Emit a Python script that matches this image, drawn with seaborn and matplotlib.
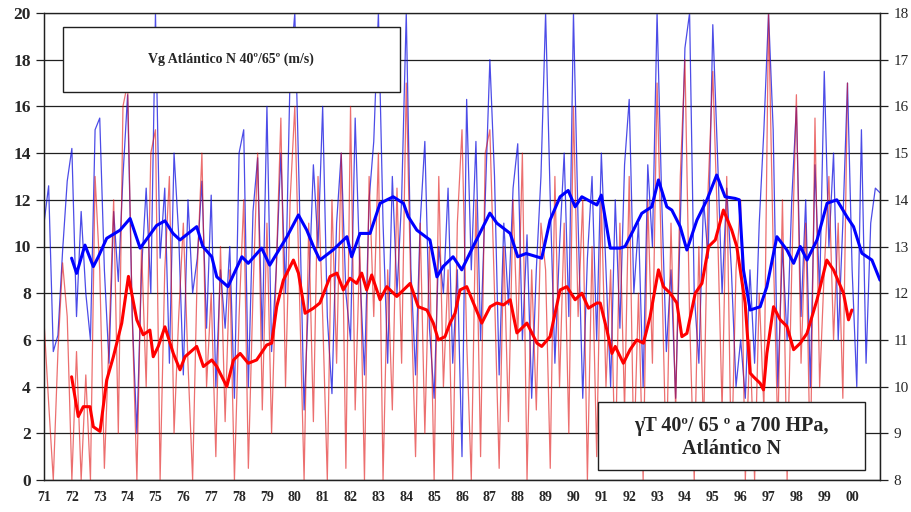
import numpy as np
import matplotlib
matplotlib.use('Agg')
import matplotlib.pyplot as plt
import seaborn as sns
from matplotlib.patches import Rectangle

# Monthly-ish (bi-monthly) thin series, one row per year 1971..2000
vg_thin = [
    11.0, 12.6, 5.5, 6.2, 9.8, 12.8,     # 71
    14.2, 7.0, 11.5, 8.0, 6.0, 15.0,     # 72
    15.5, 9.0, 5.0, 11.5, 8.5, 13.0,     # 73
    16.5, 7.0, 2.0, 9.0, 12.5, 8.0,      # 74
    20.0, 9.5, 12.5, 5.0, 14.0, 10.5,    # 75
    4.5, 12.0, 8.0, 9.5, 12.8, 6.5,      # 76
    12.2, 4.0, 9.0, 6.5, 10.0, 3.5,      # 77
    14.0, 15.0, 4.0, 11.5, 13.8, 6.0,    # 78
    16.0, 5.5, 9.0, 14.0, 8.0, 17.5,     # 79
    20.0, 12.0, 3.0, 8.0, 13.5, 10.0,    # 80
    16.0, 7.0, 3.7, 11.0, 14.0, 8.0,     # 81
    6.0, 15.5, 9.0, 4.5, 12.0, 14.5,     # 82
    20.0, 11.0, 5.0, 13.0, 8.0, 12.0,    # 83
    20.0, 9.0, 4.5, 11.0, 14.5, 6.5,     # 84
    3.5, 10.0, 8.0, 12.5, 5.0, 9.0,      # 85
    1.0, 16.3, 9.0, 14.5, 6.0, 12.0,     # 86
    18.0, 13.0, 4.5, 11.0, 7.5, 12.5,    # 87
    14.4, 6.0, 10.5, 3.5, 9.0, 13.0,     # 88
    20.0, 12.0, 5.0, 10.0, 14.0, 7.0,    # 89
    20.0, 11.0, 3.5, 9.5, 13.0, 6.0,     # 90
    14.0, 9.0, 4.0, 12.0, 6.5, 13.5,     # 91
    16.3, 8.0, 11.0, 4.0, 13.5, 10.0,    # 92
    20.0, 12.0, 5.5, 9.0, 3.5, 11.0,     # 93
    18.5, 20.0, 8.0, 5.0, 12.0, 9.5,     # 94
    19.5, 14.0, 8.0, 12.5, 9.0, 4.0,     # 95
    6.0, 3.5, 9.0, 5.0, 11.0, 15.0,      # 96
    20.0, 15.0, 4.0, 10.0, 6.0, 12.0,    # 97
    16.0, 7.0, 12.0, 4.0, 13.5, 8.0,     # 98
    17.5, 10.0, 14.0, 6.0, 11.0, 17.0,   # 99
    9.0, 4.0, 15.0, 5.0, 11.0, 12.5,     # 00
    12.3,
]

gt_thin = [
    11.4, 9.65, 8.0, 10.75, 12.65, 11.5,   # 71
    8.0, 10.75, 8.0, 10.25, 8.0, 14.5,     # 72
    12.5, 8.25, 11.0, 14.0, 9.0, 16.0,     # 73
    16.5, 11.5, 8.0, 13.0, 10.0, 15.0,     # 74
    15.5, 8.0, 12.5, 14.5, 9.0, 11.5,      # 75
    13.5, 10.5, 8.0, 12.5, 15.0, 10.0,     # 76
    12.0, 8.5, 13.0, 9.25, 12.5, 8.0,      # 77
    11.5, 14.0, 8.25, 12.0, 15.0, 9.5,     # 78
    13.5, 9.0, 12.5, 15.75, 10.0, 14.0,    # 79
    16.0, 12.0, 8.0, 13.5, 9.25, 14.5,     # 80
    11.5, 8.0, 14.0, 10.5, 15.0, 8.25,     # 81
    16.0, 9.5, 13.0, 8.0, 14.5, 11.5,      # 82
    15.0, 8.0, 12.5, 9.5, 14.25, 10.5,     # 83
    16.5, 12.0, 8.5, 13.5, 9.0, 13.0,      # 84
    8.0, 14.5, 10.0, 12.5, 8.0, 13.5,      # 85
    15.5, 11.0, 8.0, 14.0, 8.5, 15.0,      # 86
    15.5, 12.0, 8.25, 13.0, 9.25, 14.0,    # 87
    11.0, 15.0, 8.0, 12.5, 9.5, 13.5,      # 88
    12.5, 8.25, 14.5, 10.0, 13.5, 9.0,     # 89
    16.0, 11.5, 14.0, 8.0, 13.0, 8.5,      # 90
    14.0, 10.0, 12.5, 8.25, 13.5, 9.5,     # 91
    14.5, 8.5, 12.0, 8.0, 14.0, 10.5,      # 92
    16.5, 12.5, 8.25, 13.5, 9.5, 14.5,     # 93
    17.0, 11.5, 8.0, 13.0, 9.0, 14.25,     # 94
    16.75, 13.5, 9.5, 14.5, 8.25, 12.5,    # 95
    14.0, 8.0, 11.0, 8.0, 12.0, 9.5,       # 96
    18.0, 13.0, 9.0, 14.0, 8.0, 12.5,      # 97
    16.25, 10.5, 13.5, 8.25, 15.75, 10.0,  # 98
    12.5, 14.5, 11.0, 13.5, 9.75, 16.5,    # 99
]

# Smoothed series (thick lines): decimal year, value
vg_smooth_year = [
    71.99, 72.17, 72.47, 72.77, 72.95, 73.25, 73.73, 74.09, 74.45, 75.04,
    75.34, 75.63, 75.88, 76.48, 76.70, 77.02, 77.20, 77.60, 78.10, 78.33,
    78.81, 79.10, 79.47, 79.71, 80.13, 80.43, 80.67, 80.90, 81.37, 81.87,
    82.04, 82.34, 82.70, 83.06, 83.53, 83.90, 84.07, 84.38, 84.85, 85.10,
    85.32, 85.68, 85.99, 86.40, 87.00, 87.25, 87.73, 88.00, 88.30, 88.86,
    89.16, 89.52, 89.81, 90.06, 90.30, 90.84, 91.00, 91.32, 91.67, 91.85,
    92.15, 92.45, 92.81, 93.05, 93.35, 93.53, 93.83, 94.07, 94.43, 94.79,
    95.14, 95.44, 95.80, 95.95, 96.10, 96.34, 96.70, 96.94, 97.30, 97.66,
    97.90, 98.14, 98.38, 98.74, 99.10, 99.45, 99.81, 100.05, 100.35, 100.71,
    101.0,
]
vg_smooth = [
    9.5, 8.85, 10.06, 9.14, 9.56, 10.35, 10.7, 11.2, 9.93, 10.9,
    11.1, 10.56, 10.28, 10.85, 10.0, 9.56, 8.7, 8.28, 9.56, 9.28,
    9.93, 9.2, 9.93, 10.4, 11.35, 10.7, 10.0, 9.42, 9.85, 10.42,
    9.56, 10.56, 10.56, 11.85, 12.13, 11.85, 11.28, 10.7, 10.28, 8.7,
    9.14, 9.56, 9.0, 10.0, 11.43, 11.0, 10.56, 9.56, 9.7, 9.5,
    11.13, 12.13, 12.4, 11.7, 12.13, 11.78, 12.2, 9.93, 9.93, 10.0,
    10.7, 11.42, 11.7, 12.85, 11.7, 11.56, 10.85, 9.85, 11.13, 12.0,
    13.06, 12.13, 12.06, 12.0, 9.0, 7.28, 7.42, 8.28, 10.42, 9.85,
    9.28, 10.0, 9.42, 10.28, 11.85, 12.0, 11.28, 10.85, 9.71, 9.42,
    8.56,
]

gt_smooth_year = [
    71.99, 72.17, 72.23, 72.41, 72.65, 72.77, 73.01, 73.25, 73.49, 73.79,
    74.03, 74.33, 74.56, 74.80, 74.92, 75.10, 75.34, 75.64, 75.88, 76.06,
    76.48, 76.72, 77.02, 77.20, 77.56, 77.80, 78.04, 78.33, 78.63, 78.99,
    79.17, 79.35, 79.59, 79.95, 80.13, 80.37, 80.67, 80.90, 81.27, 81.51,
    81.74, 81.98, 82.22, 82.40, 82.58, 82.76, 83.06, 83.30, 83.66, 84.14,
    84.43, 84.74, 84.97, 85.15, 85.39, 85.57, 85.75, 85.93, 86.17, 86.41,
    86.71, 87.01, 87.25, 87.49, 87.73, 87.97, 88.33, 88.69, 88.86, 89.16,
    89.52, 89.76, 90.06, 90.30, 90.54, 90.84, 90.96, 91.20, 91.38, 91.50,
    91.79, 92.03, 92.27, 92.51, 92.75, 93.05, 93.23, 93.47, 93.71, 93.89,
    94.07, 94.37, 94.61, 94.85, 95.09, 95.38, 95.68, 95.86, 96.16, 96.34,
    96.46, 96.70, 96.82, 96.94, 97.18, 97.42, 97.66, 97.90, 98.14, 98.38,
    98.74, 99.09, 99.33, 99.69, 99.87, 99.99,
]
gt_smooth = [
    10.21, 9.57, 9.36, 9.57, 9.57, 9.14, 9.04, 10.14, 10.64, 11.36,
    12.36, 11.43, 11.11, 11.21, 10.64, 10.86, 11.28, 10.71, 10.36, 10.64,
    10.86, 10.43, 10.57, 10.43, 10.0, 10.57, 10.71, 10.5, 10.57, 10.89,
    10.93, 11.71, 12.28, 12.71, 12.43, 11.57, 11.68, 11.79, 12.36, 12.43,
    12.07, 12.32, 12.21, 12.43, 12.07, 12.39, 11.86, 12.14, 11.93, 12.21,
    11.71, 11.64, 11.36, 11.0, 11.07, 11.36, 11.57, 12.07, 12.14, 11.79,
    11.36, 11.71, 11.79, 11.75, 11.86, 11.15, 11.36, 10.93, 10.86, 11.07,
    12.07, 12.14, 11.86, 12.0, 11.68, 11.79, 11.79, 11.21, 10.71, 10.86,
    10.5, 10.79, 11.0, 10.93, 11.5, 12.5, 12.14, 12.0, 11.79, 11.07,
    11.14, 12.0, 12.21, 13.0, 13.14, 13.78, 13.35, 13.0, 11.79, 10.29,
    10.21, 10.07, 9.93, 10.71, 11.71, 11.43, 11.29, 10.79, 10.93, 11.14,
    11.86, 12.71, 12.5, 12.0, 11.43, 11.64,
]

year_labels = ['71', '72', '73', '74', '75', '76', '77', '78', '79', '80',
               '81', '82', '83', '84', '85', '86', '87', '88', '89', '90',
               '91', '92', '93', '94', '95', '96', '97', '98', '99', '00']

# sample positions of the thin series (6 per year from 1971)
vg_x = 71 + np.arange(len(vg_thin)) / 6
gt_x = 71 + np.arange(len(gt_thin)) / 6

sns.set_style('white')
plt.rcParams['font.family'] = ['Liberation Serif', 'DejaVu Serif']

fig, ax = plt.subplots(figsize=(9.12, 5.12), dpi=100)
fig.subplots_adjust(left=44/912, right=880/912, top=1-13/512, bottom=1-480/512)
ax2 = ax.twinx()
ax2.set_ylim(8, 18)
ax.set_ylim(0, 20)
ax.set_xlim(71, 101)

# thin lines
sns.lineplot(x=vg_x, y=vg_thin, ax=ax, color='#1010e0', lw=0.9, alpha=0.75, zorder=2)
ax.plot(gt_x, gt_thin, color='#e01010', lw=0.9, alpha=0.6, zorder=3,
        transform=ax2.transData)
# thick lines
ax.plot(gt_smooth_year, gt_smooth, color='#ff0000', lw=2.2, zorder=4,
        transform=ax2.transData)
sns.lineplot(x=vg_smooth_year, y=vg_smooth, ax=ax, color='#0000ff', lw=2.2, zorder=5)
ax.set_ylim(0, 20)
ax.set_xlim(71, 101)

# grid
ax.set_xticks(np.arange(71, 101))
ax.set_xticklabels(year_labels)
ax.set_xticks(np.arange(71, 102), minor=True)
ax.set_yticks(np.arange(0, 21, 2))
ax.grid(True, which='minor', axis='x', color='#404040', lw=0.9)
ax.grid(True, which='major', axis='y', color='#202020', lw=0.9)
ax.set_axisbelow(True)
ax2.set_yticks(np.arange(8, 19, 1))

for a in (ax, ax2):
    for s in a.spines.values():
        s.set_color('#202020')
        s.set_linewidth(0.9)
ax.spines['top'].set_color('#909090')

ax.tick_params(axis='y', which='major', direction='out', length=6, width=0.9,
               color='#202020', labelsize=12.5)
ax.tick_params(axis='x', which='major', direction='out', length=5, width=0.9,
               color='#202020', labelsize=10, pad=3)
ax.tick_params(axis='x', which='minor', length=0)
ax2.tick_params(axis='y', direction='out', length=6, width=0.9,
                color='#202020', labelsize=11)
for lab in ax.get_yticklabels() + ax.get_xticklabels():
    lab.set_fontweight('bold')
ax.set_xlabel('')
ax.set_ylabel('')
if ax.get_legend():
    ax.get_legend().remove()

# text boxes
box1 = Rectangle((0.0227, 0.831), 0.4031, 0.139, transform=ax.transAxes,
                 facecolor='white', edgecolor='#202020', lw=1.0, zorder=10)
ax.add_patch(box1)
ax.text(0.224, 0.90, 'Vg Atlántico N 40º/65º (m/s)', transform=ax.transAxes,
        ha='center', va='center', fontsize=10, fontweight='bold', zorder=11)

box2 = Rectangle((0.663, 0.0214), 0.319, 0.1456, transform=ax.transAxes,
                 facecolor='white', edgecolor='#202020', lw=1.0, zorder=10)
ax.add_patch(box2)
ax.text(0.8225, 0.092, 'γT 40º/ 65 º a 700 HPa,\nAtlántico N', transform=ax.transAxes,
        ha='center', va='center', fontsize=14.5, fontweight='bold',
        linespacing=1.2, zorder=11)

fig.savefig('out.png', dpi=100)
